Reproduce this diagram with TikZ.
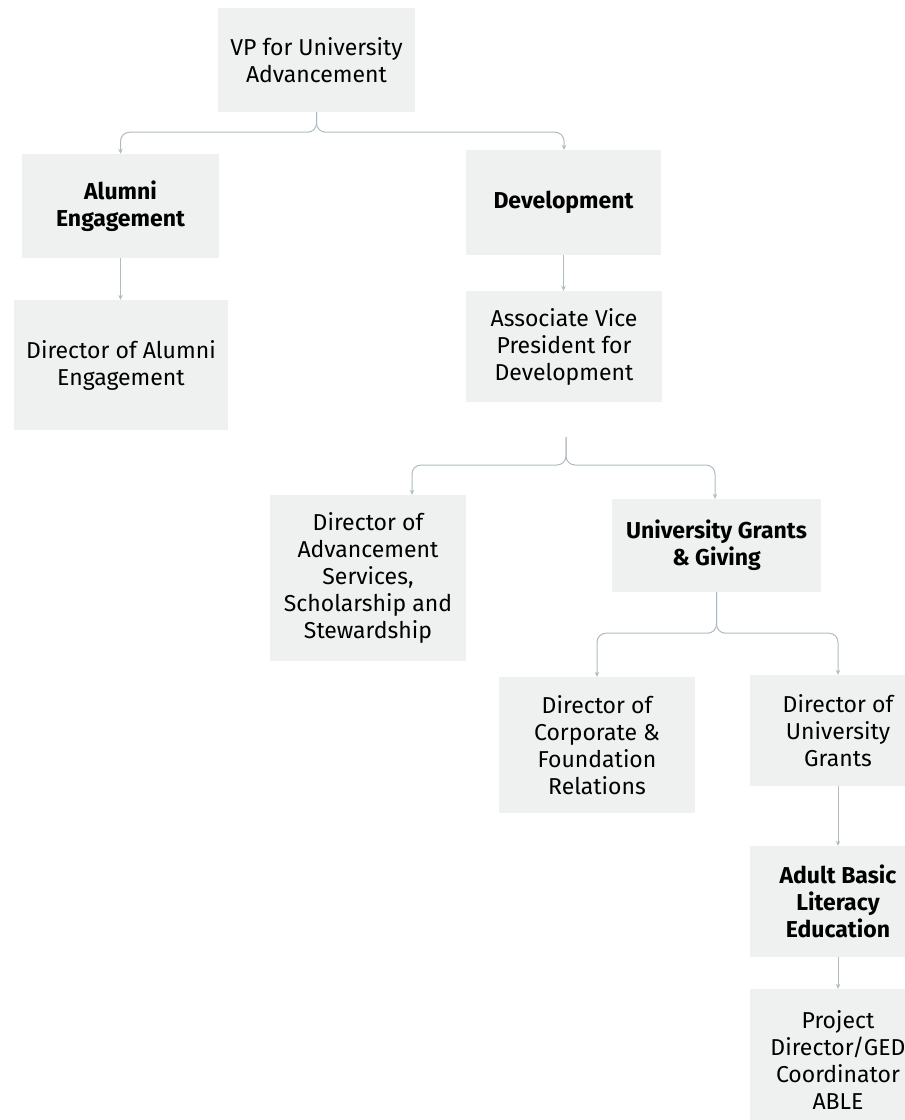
\documentclass[tikz,border=0pt]{standalone}
\usepackage{fontspec}
\setmainfont{Fira Sans}
\usepackage{tikz}
\usetikzlibrary{arrows.meta,calc}
\definecolor{boxgrey}{HTML}{EFF0F0}
\definecolor{linkgrey}{HTML}{AEBBC3}

\begin{document}
\begin{tikzpicture}[x=1pt,y=-1pt,
	box/.style={fill=boxgrey,align=center,inner sep=0pt,font=\fontsize{23}{27}\selectfont},
	head/.style={box,font=\fontsize{23}{27}\selectfont\bfseries},
	link/.style={draw=linkgrey,line width=1pt,rounded corners=9pt,-{Stealth[length=5pt,width=4.5pt]}}]
					%\draw[help lines] (0,0) grid[step=50] (905,1120);
					\useasboundingbox (0,0) rectangle (905,1120);
					\clip (0,0) rectangle (905,1120);
					%BOXES
					\node[box,minimum width=197pt,minimum height=104pt] (vp) at (316.5,60) {VP for University\\Advancement};
					\node[head,minimum width=197pt,minimum height=104pt] (alumni) at (120.5,206) {Alumni\\Engagement};
					\node[head,minimum width=195pt,minimum height=105pt] (dev) at (563.5,202.5) {Development};
					\node[box,minimum width=214pt,minimum height=130pt] (diralum) at (121,365) {Director of Alumni\\Engagement};
					\node[box,minimum width=196pt,minimum height=111pt] (avp) at (564,346.5) {Associate Vice\\President for\\Development};
					\node[box,minimum width=196pt,minimum height=166pt] (advsvc) at (368,578) {Director of\\Advancement\\Services,\\Scholarship and\\Stewardship};
					\node[head,minimum width=209pt,minimum height=93pt] (grants) at (716.5,545.5) {University Grants\\\& Giving};
					\node[box,minimum width=196pt,minimum height=136pt] (corp) at (597,745) {Director of\\Corporate \&\\Foundation\\Relations};
					\node[box,minimum width=176pt,minimum height=111pt] (univgr) at (838,730.5) {Director of\\University\\Grants};
					\node[head,minimum width=176pt,minimum height=111pt] (able) at (838,901.5) {Adult Basic\\Literacy\\Education};
					\node[box,minimum width=176pt,minimum height=142pt] (project) at (838,1060) {Project\\Director/GED\\Coordinator\\ABLE};
					\coordinate (avpout) at (566,437);
					%LINKS
					\draw[link] (vp.south) -- ++(0,20) -| (alumni.north);
					\draw[link] (vp.south) -- ++(0,20) -| ([xshift=0.5pt]dev.north);
					\draw[link] (alumni.south) -- (alumni.south |- diralum.north);
					\draw[link] (dev.south) -- (dev.south |- avp.north);
					\draw[link] (avpout) -- ++(0,28) -| ([xshift=44pt]advsvc.north);
					\draw[link] (avpout) -- ++(0,28) -| ([xshift=-1.5pt]grants.north);
					\draw[link] (grants.south) -- ++(0,41) -| (corp.north);
					\draw[link] (grants.south) -- ++(0,41) -| (univgr.north);
					\draw[link] (univgr.south) -- (able.north);
					\draw[link] (able.south) -- (project.north);
\end{tikzpicture}
\end{document}
